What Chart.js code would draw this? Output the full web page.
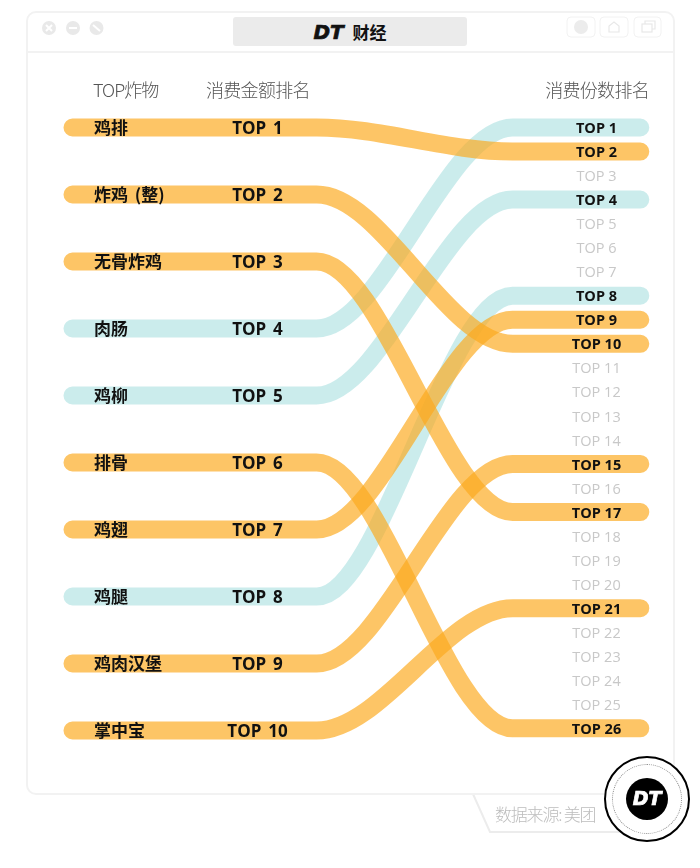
<!DOCTYPE html>
<html lang="zh">
<head>
<meta charset="utf-8">
<title>DT财经</title>
<script src="https://cdn.jsdelivr.net/npm/chart.js@4/dist/chart.umd.min.js"></script>
<style>
    html, body { margin: 0; padding: 0; background: #fff; }
    body { width: 700px; height: 868px; position: relative; overflow: hidden; font-family: "Noto Sans CJK SC", sans-serif; }
    #frame { position: absolute; left: 26px; top: 11px; width: 645px; height: 780px; border: 2px solid #f2f2f2; border-radius: 10px; }
    #headerLine { position: absolute; left: 27px; top: 51px; width: 646px; height: 2px; background: #f2f2f2; }
    #titlePill { position: absolute; left: 233px; top: 17px; width: 234px; height: 29px; background: #ebebeb; border-radius: 3px; text-align: center; line-height: 29px; font-size: 17px; font-weight: 700; color: #111; }
    .dt { font-family: "DejaVu Sans", sans-serif; font-style: italic; font-weight: 700; -webkit-text-stroke: 0.7px currentColor; }
    #titlePill .dt { font-size: 20px; margin-right: 5px; }
    #chromeArt { position: absolute; left: 0; top: 0; }
    #chartCanvas { position: absolute; left: 0; top: 0; }
    #sourceText { position: absolute; left: 495px; top: 801px; font-size: 17px; font-weight: 300; color: #bdbdbd; letter-spacing: -1.2px; }
    #logoBadge { position: absolute; left: 604px; top: 756px; width: 82px; height: 82px; border: 2px solid #000; border-radius: 50%; background: #fff; }
    #logoDots { position: absolute; left: 6px; top: 6px; width: 68px; height: 68px; border: 1px dotted #888; border-radius: 50%; }
    #logoCore { position: absolute; left: 20px; top: 20px; width: 42px; height: 42px; border-radius: 50%; background: #000; color: #fff; text-align: center; line-height: 41px; font-size: 19px; }
</style>
</head>
<body>
<svg id="chromeArt" width="700" height="868">
    <polyline points="473,794 490,832 625,832" fill="none" stroke="#ececec" stroke-width="2"/>
    <g fill="#e9e9e9">
        <circle cx="49" cy="28" r="7"/>
        <circle cx="73" cy="28" r="7"/>
        <circle cx="96.500" cy="28" r="7"/>
    </g>
    <g stroke="#fff" stroke-width="2" fill="none">
        <path d="M46 25l6 6M52 25l-6 6"/>
        <path d="M69 28h8"/>
        <path d="M93 25l7 6"/>
    </g>
    <g fill="none" stroke="#f2f2f2" stroke-width="1">
        <rect x="567" y="17" width="28" height="20" rx="4"/>
        <rect x="600" y="17" width="28" height="20" rx="4"/>
        <rect x="634" y="17" width="27" height="20" rx="4"/>
    </g>
    <circle cx="581" cy="27" r="7" fill="#ececec"/>
    <path d="M609 32v-6l5-4 5 4v6z" fill="none" stroke="#e8e8e8" stroke-width="1.200"/>
    <g fill="none" stroke="#e8e8e8" stroke-width="1.200">
        <rect x="642" y="24" width="10" height="8"/>
        <path d="M645 24v-3h10v8h-3"/>
    </g>
</svg>
<div id="frame"></div>
<div id="headerLine"></div>
<div id="titlePill"><span class="dt">DT</span> 财经</div>
<canvas id="chartCanvas" width="700" height="868"></canvas>
<div id="sourceText">数据来源: 美团</div>
<div id="logoBadge">
    <div id="logoDots"></div>
    <div id="logoCore" class="dt">DT</div>
</div>

<script>
const foods = ['鸡排', '炸鸡 (整)', '无骨炸鸡', '肉肠', '鸡柳', '排骨', '鸡翅', '鸡腿', '鸡肉汉堡', '掌中宝'];
const amountRanks = [1, 2, 3, 4, 5, 6, 7, 8, 9, 10];
const portionRanks = [2, 10, 17, 1, 4, 26, 9, 8, 15, 21];
const tealFoods = ['肉肠', '鸡柳', '鸡腿'];
const portionTicks = [1, 2, 3, 4, 5, 6, 7, 8, 9, 10, 11, 12, 13, 14, 15, 16, 17, 18, 19, 20, 21, 22, 23, 24, 25, 26];
const headers = ['TOP炸物', '消费金额排名', '消费份数排名'];

const ORANGE = 'rgba(252, 170, 30, 0.68)';
const TEAL = 'rgba(160, 220, 220, 0.55)';
const LEFT_STEP = 2.788; // one amount rank is this many portion ranks tall
const CURVE_START = 0.43;
const CURVE_END = 0.775;

function amountToY(rank) {
    return 1 + (rank - 1) * LEFT_STEP;
}

const datasets = foods.map((food, i) => ({
    label: food,
    data: [
        { x: 0, y: amountToY(amountRanks[i]) },
        { x: CURVE_START, y: amountToY(amountRanks[i]) },
        { x: CURVE_END, y: portionRanks[i] },
        { x: 1, y: portionRanks[i] }
    ],
    borderColor: tealFoods.includes(food) ? TEAL : ORANGE,
    borderWidth: 18,
    borderCapStyle: 'round',
    cubicInterpolationMode: 'monotone',
    pointRadius: 0,
    clip: false
}));

const rankLabels = {
    id: 'rankLabels',
    afterDatasetsDraw(chart) {
        const { ctx, scales: { y } } = chart;
        ctx.save();
        ctx.textBaseline = 'middle';
        ctx.fillStyle = '#111';

        ctx.textAlign = 'left';
        ctx.font = '700 17px "Noto Sans CJK SC"';
        ctx.wordSpacing = '3px';
        foods.forEach((food, i) => ctx.fillText(food, 94, y.getPixelForValue(amountToY(amountRanks[i])) + 0.5));

        ctx.textAlign = 'center';
        ctx.font = '700 17px "Open Sans"';
        ctx.wordSpacing = '2.500px';
        amountRanks.forEach(rank => ctx.fillText('TOP ' + rank, 257.500, y.getPixelForValue(amountToY(rank)) + 2));
        ctx.wordSpacing = '0px';

        portionTicks.forEach(rank => {
            const active = portionRanks.includes(rank);
            ctx.font = (active ? '700' : '400') + ' 14.5px "Open Sans"';
            ctx.fillStyle = active ? '#111' : '#c8c8c8';
            ctx.fillText('TOP ' + rank, 596.500, y.getPixelForValue(rank) + 1.5);
        });

        ctx.font = '300 18px "Noto Sans CJK SC"';
        ctx.fillStyle = '#555';
        ctx.textAlign = 'left';
        ctx.letterSpacing = '-1px';
        ctx.fillText(headers[0], 93, 90);
        ctx.letterSpacing = '-0.7px';
        ctx.fillText(headers[1], 206, 90);
        ctx.textAlign = 'right';
        ctx.fillText(headers[2], 649, 90);
        ctx.restore();
    }
};

new Chart(document.getElementById('chartCanvas').getContext('2d'), {
    type: 'line',
    data: { datasets: datasets },
    plugins: [rankLabels],
    options: {
        responsive: false,
        animation: false,
        layout: { padding: { left: 72.5, right: 59.7, top: 127.5, bottom: 139.7 } },
        plugins: { legend: { display: false }, tooltip: { enabled: false } },
        scales: {
            x: { type: 'linear', min: 0, max: 1, display: false },
            y: { type: 'linear', min: 1, max: 26, reverse: true, display: false }
        }
    }
});
</script>
</body>
</html>
